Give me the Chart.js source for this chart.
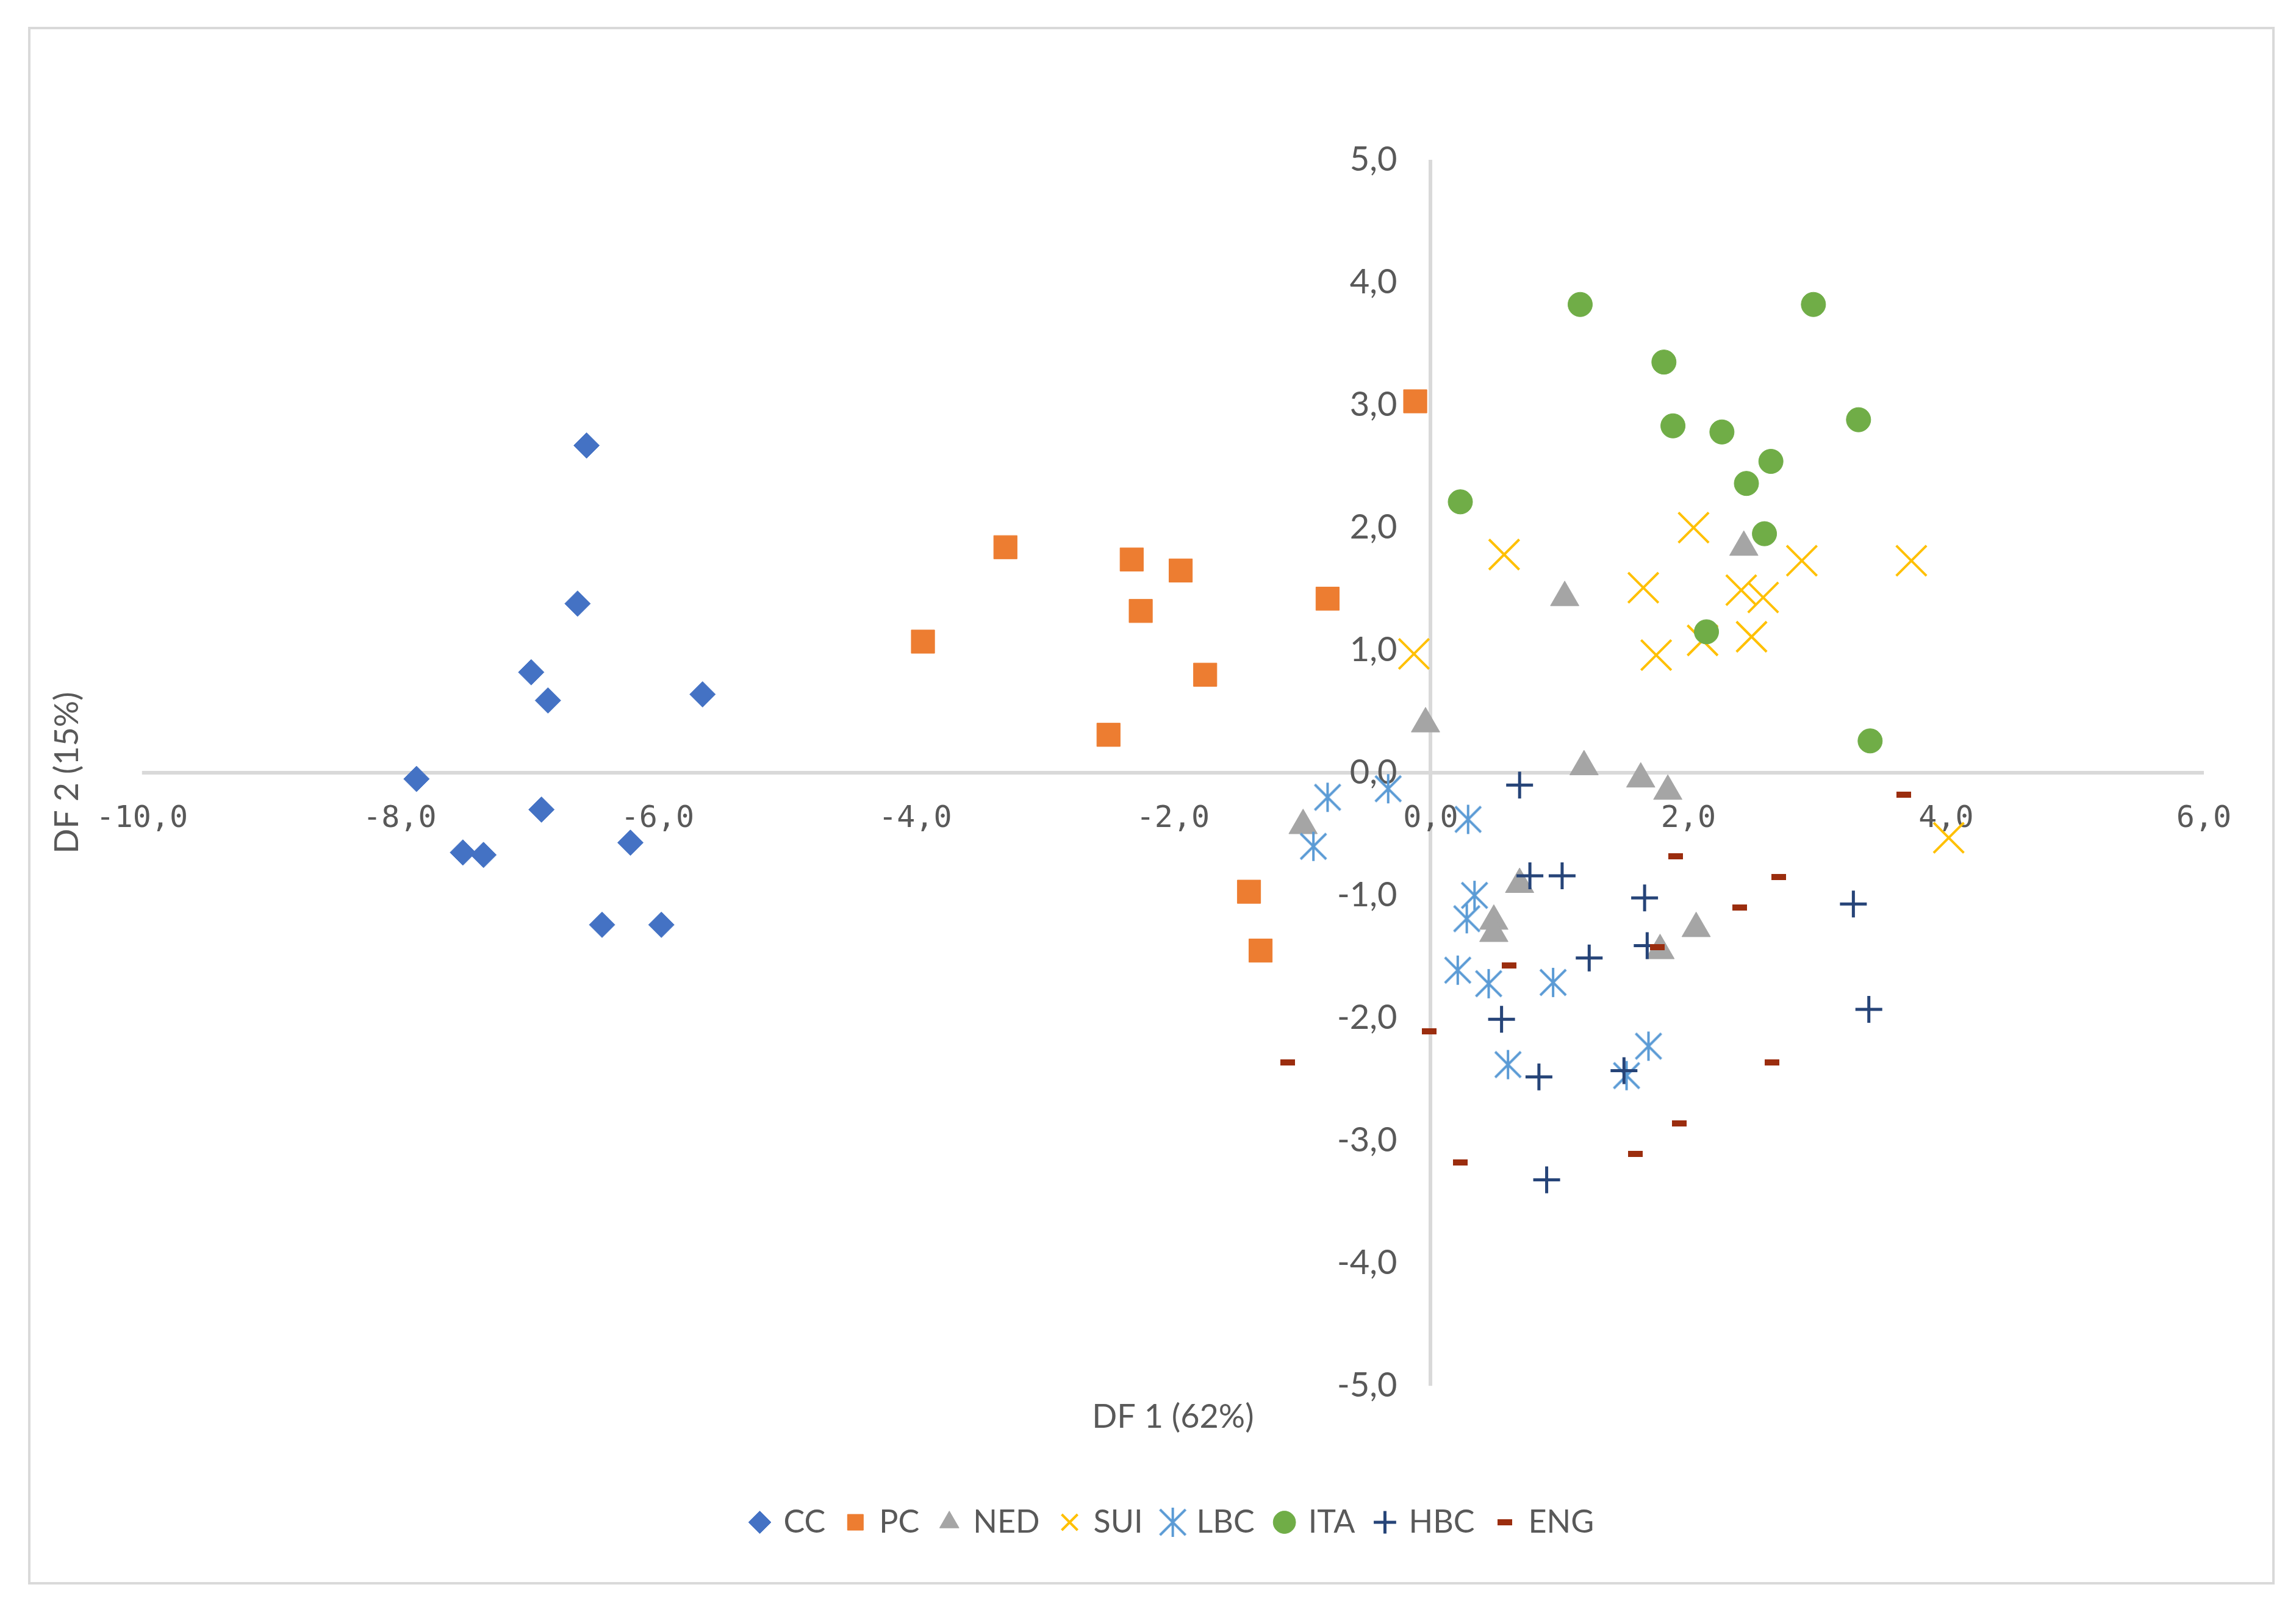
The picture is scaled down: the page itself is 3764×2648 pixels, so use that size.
<!DOCTYPE html>
<html>
<head>
<meta charset="utf-8">
<title>DF 1 / DF 2</title>
<script src="https://cdn.jsdelivr.net/npm/chart.js@4.4.1/dist/chart.umd.min.js"></script>
<style>
  html, body { margin: 0; padding: 0; background: #ffffff; }
  #frame { position: absolute; left: 46px; top: 44px; width: 3683px; height: 2554px;
           box-sizing: border-box; border: 4px solid #d9d9d9; }
  #chart { position: absolute; left: 0; top: 0; }
</style>
</head>
<body>
<div id="frame"></div>
<canvas id="chart" width="3764" height="2648"></canvas>
<script>
// groups, in legend order
var groupNames = ["CC", "PC", "NED", "SUI", "LBC", "ITA", "HBC", "ENG"];

// DF1 / DF2 scores, one [x, y] per sample
var ccPoints  = [[-6.55, 2.67], [-6.62, 1.38], [-6.98, 0.82], [-6.85, 0.59], [-5.65, 0.64], [-7.87, -0.05],
                 [-6.90, -0.30], [-7.51, -0.65], [-7.35, -0.67], [-6.21, -0.57], [-6.43, -1.24], [-5.97, -1.24]];
var pcPoints  = [[-0.12, 3.03], [-3.30, 1.84], [-2.32, 1.74], [-1.94, 1.65], [-0.80, 1.42], [-2.25, 1.32],
                 [-3.94, 1.07], [-1.75, 0.80], [-2.50, 0.31], [-1.41, -0.97], [-1.32, -1.45]];
var nedPoints = [[2.43, 1.84], [1.04, 1.43], [-0.04, 0.40], [1.19, 0.05], [1.63, -0.05], [1.84, -0.15],
                 [-0.99, -0.43], [0.69, -0.91], [0.49, -1.21], [0.49, -1.31], [2.06, -1.27], [1.78, -1.45]];
var suiPoints = [[0.57, 1.78], [2.04, 2.00], [1.65, 1.51], [2.88, 1.73], [3.73, 1.73], [2.41, 1.49],
                 [2.58, 1.43], [2.49, 1.11], [2.11, 1.08], [1.75, 0.96], [-0.13, 0.97], [4.02, -0.53]];
var lbcPoints = [[-0.80, -0.20], [-0.33, -0.13], [-0.91, -0.60], [0.29, -0.38], [0.34, -1.00], [0.28, -1.19],
                 [0.21, -1.61], [0.45, -1.72], [0.95, -1.71], [0.60, -2.38], [1.69, -2.23], [1.52, -2.47]];
var itaPoints = [[1.16, 3.82], [2.97, 3.82], [1.81, 3.35], [1.88, 2.83], [2.26, 2.78], [3.32, 2.88],
                 [2.64, 2.54], [2.45, 2.36], [0.23, 2.21], [2.59, 1.95], [2.14, 1.15], [3.41, 0.26]];
var hbcPoints = [[0.69, -0.10], [0.77, -0.84], [1.02, -0.84], [1.66, -1.02], [3.28, -1.07], [1.68, -1.41],
                 [1.23, -1.51], [0.55, -2.01], [3.40, -1.93], [0.84, -2.48], [1.50, -2.43], [0.90, -3.32]];
var engPoints = [[-1.11, -2.36], [-0.01, -2.11], [0.61, -1.57], [0.23, -3.18], [1.59, -3.11], [1.93, -2.86],
                 [2.65, -2.36], [1.90, -0.68], [2.70, -0.85], [2.40, -1.10], [1.76, -1.42], [3.67, -0.18]];

var xRange = [-10, 6], xStep = 2;
var yRange = [-5, 5], yStep = 1;
var xTitle = "DF 1 (62%)";
var yTitle = "DF 2 (15%)";

var textColor = "#595959";
var axisColor = "#d9d9d9";

// excel-like "*" marker (vertical bar + x)
function starMarker(color) {
	var c = document.createElement("canvas");
	c.width = 50; c.height = 50;
	var g = c.getContext("2d");
	g.strokeStyle = color;
	g.lineWidth = 4;
	g.beginPath();
	g.moveTo(25, 1); g.lineTo(25, 49);
	g.moveTo(4, 4); g.lineTo(46, 46);
	g.moveTo(46, 4); g.lineTo(4, 46);
	g.stroke();
	return c;
}

// short thick dash marker
function dashMarker(color) {
	var c = document.createElement("canvas");
	c.width = 24; c.height = 10;
	var g = c.getContext("2d");
	g.fillStyle = color;
	g.fillRect(0, 0, 24, 10);
	return c;
}

var styles = [
	{ pointStyle: "rectRot",  radius: 21, fill: "#4472C4", line: "#4472C4", width: 1 },
	{ pointStyle: "rect",     radius: 27, fill: "#ED7D31", line: "#ED7D31", width: 1 },
	{ pointStyle: "triangle", radius: 27, fill: "#A5A5A5", line: "#A5A5A5", width: 1 },
	{ pointStyle: "crossRot", radius: 35, fill: "#FFC000", line: "#FFC000", width: 4 },
	{ pointStyle: starMarker("#5B9BD5"), radius: 24, fill: "#5B9BD5", line: "#5B9BD5", width: 4 },
	{ pointStyle: "circle",   radius: 20, fill: "#70AD47", line: "#70AD47", width: 1 },
	{ pointStyle: "cross",    radius: 22, fill: "#264478", line: "#264478", width: 5 },
	{ pointStyle: dashMarker("#9B2D0E"), radius: 12, fill: "#9B2D0E", line: "#9B2D0E", width: 1 }
];

var allPoints = [ccPoints, pcPoints, nedPoints, suiPoints, lbcPoints, itaPoints, hbcPoints, engPoints];

var datasets = groupNames.map(function(name, i) {
	var s = styles[i];
	return {
		label: name,
		data: allPoints[i].map(function(p) { return { x: p[0], y: p[1] }; }),
		pointStyle: s.pointStyle,
		pointRadius: s.radius,
		pointHoverRadius: s.radius,
		pointBackgroundColor: s.fill,
		pointBorderColor: s.line,
		pointBorderWidth: s.width,
		backgroundColor: s.fill,
		borderColor: s.line,
		borderWidth: s.width,
		// later groups painted on top
		order: groupNames.length - i
	};
});

function fmt(v) {
	return Number(v).toFixed(1).replace(".", ",");
}

// only the zero line of each scale is drawn (the crossing axes)
function zeroColor(c) { return c.tick && c.tick.value === 0 ? axisColor : "rgba(0,0,0,0)"; }
function zeroWidth(c) { return c.tick && c.tick.value === 0 ? 6 : 0; }

new Chart(document.getElementById("chart"), {
	type: "scatter",
	data: { datasets: datasets },
	options: {
		responsive: false,
		animation: false,
		events: [],
		devicePixelRatio: 1,
		layout: { padding: { left: 40, top: 262, right: 151, bottom: 116 } },
		scales: {
			x: {
				type: "linear",
				min: xRange[0], max: xRange[1],
				position: { y: 0 },
				ticks: { stepSize: xStep, padding: 46, maxRotation: 0, color: textColor,
					font: { family: "DejaVu Sans Mono", size: 50 }, callback: fmt },
				grid: { drawTicks: false, color: zeroColor, lineWidth: zeroWidth },
				border: { display: false }
			},
			y: {
				type: "linear",
				min: yRange[0], max: yRange[1],
				position: { x: -0.26 },
				ticks: { stepSize: yStep, padding: 0, color: textColor,
					font: { family: "Lato", size: 56 }, callback: fmt },
				grid: { drawTicks: false, color: zeroColor, lineWidth: zeroWidth },
				border: { display: false }
			}
		},
		plugins: {
			tooltip: { enabled: false },
			legend: {
				position: "bottom",
				fullSize: false,
				weight: 1000,
				labels: {
					usePointStyle: true,
					boxWidth: 26,
					boxHeight: 26,
					padding: 36,
					color: textColor,
					font: { family: "Lato", size: 52 },
					sort: function(a, b) { return a.datasetIndex - b.datasetIndex; }
				}
			},
			title: {
				display: true,
				text: xTitle,
				position: "bottom",
				fullSize: false,
				weight: 500,
				color: textColor,
				font: { family: "Lato", size: 54, weight: "normal" },
				padding: { top: 19, bottom: 78 }
			},
			subtitle: {
				display: true,
				text: yTitle,
				position: "left",
				fullSize: false,
				color: textColor,
				font: { family: "Lato", size: 54, weight: "normal" },
				padding: { top: 38, bottom: 90 }
			}
		}
	}
});
</script>
</body>
</html>
